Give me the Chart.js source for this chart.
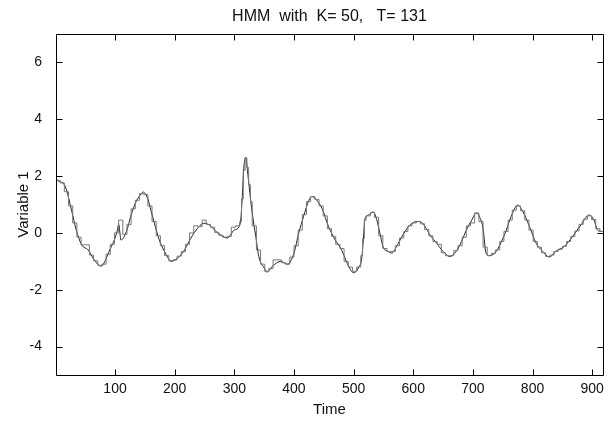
<!DOCTYPE html>
<html>
<head>
<meta charset="utf-8">
<script src="https://cdn.jsdelivr.net/npm/chart.js@4.4.1/dist/chart.umd.min.js"></script>
<style>
  html, body { margin: 0; padding: 0; background: #fff; }
  #wrap { width: 610px; height: 423px; }
</style>
</head>
<body>
<div id="wrap"><canvas id="hmm-chart"></canvas></div>
<script>
// observed signal
const timeSteps = [1,7,13,18,27,35,44,55,63,71,
  77,83,91,99,104,106,110,119,127,135,
  144,147,155,160,166,174,186,194,205,215,
  224,236,249,258,272,288,300,310,313,316,
  319,322,325,330,336,341,350,355,364,378,
  389,400,408,416,425,430,437,447,458,469,
  481,489,500,508,514,517,519,525,533,539,
  544,550,558,564,572,581,592,603,611,620,
  628,639,650,661,672,681,689,698,706,711,
  717,722,728,739,748,756,764,775,784,795,
  806,817,828,839,853,867,881,895,903,909,
  917];
const variable1 = [1.9,1.8,1.75,1.55,0.8,0.1,-0.42,-0.6,-0.88,-1.1,
  -1.17,-1.0,-0.6,-0.24,0.1,0.3,-0.25,0.05,0.63,1.09,
  1.38,1.44,1.2,0.8,0.34,-0.24,-0.77,-1.0,-0.88,-0.65,
  -0.3,0.1,0.34,0.28,0.0,-0.18,0.1,0.34,1.15,2.31,
  2.66,2.2,1.6,0.7,-0.13,-0.83,-1.23,-1.38,-1.17,-1.0,
  -1.1,-0.71,0.0,0.57,1.15,1.28,1.18,0.86,0.22,-0.24,
  -0.65,-1.06,-1.4,-1.23,-0.83,0.0,0.5,0.63,0.74,0.45,
  0.0,-0.53,-0.65,-0.71,-0.48,-0.13,0.22,0.39,0.4,0.22,
  -0.07,-0.36,-0.65,-0.83,-0.65,-0.3,0.1,0.45,0.71,0.57,
  0.16,-0.71,-0.8,-0.65,-0.3,0.1,0.57,0.98,0.74,0.22,
  -0.36,-0.65,-0.85,-0.65,-0.48,-0.13,0.28,0.63,0.45,0.1,
  0.05];

// HMM state means (piecewise constant), start time of each step
const stateTimes = [1,8,15,22,29,36,43,50,57,64,
  71,78,85,92,99,106,113,120,127,134,
  141,148,155,162,169,176,183,190,197,204,
  211,218,225,232,239,246,253,260,267,274,
  281,288,295,302,309,312,315,318,321,324,
  327,330,337,344,351,358,365,372,379,386,
  393,400,407,414,421,428,435,442,449,456,
  463,470,477,484,491,498,505,512,515,518,
  521,528,535,542,549,556,563,570,577,584,
  591,598,605,612,619,626,633,640,647,654,
  661,668,675,682,689,696,703,710,717,724,
  731,738,745,752,759,766,773,780,787,794,
  801,808,815,822,829,836,843,850,857,864,
  871,878,885,892,899,906,913,918];
const stateMeans = [1.85,1.76,1.45,0.95,0.35,-0.15,-0.42,-0.42,-0.78,-0.98,
  -1.14,-1.1,-0.75,-0.4,0.0,0.45,-0.05,0.3,0.85,1.15,
  1.38,1.35,0.95,0.4,-0.1,-0.45,-0.8,-0.98,-0.95,-0.82,
  -0.66,-0.4,0.0,0.25,0.22,0.45,0.3,0.2,0.02,-0.08,
  -0.15,-0.12,0.2,0.25,0.4,1.2,2.2,2.65,2.3,1.7,
  1.1,0.25,-0.6,-1.1,-1.35,-1.25,-0.95,-0.95,-1.05,-1.1,
  -0.85,-0.45,0.1,0.65,1.1,1.28,1.18,0.95,0.6,0.15,
  -0.12,-0.4,-0.55,-1.0,-1.2,-1.35,-1.2,-0.8,-0.2,0.45,
  0.6,0.72,0.55,-0.1,-0.55,-0.66,-0.65,-0.45,-0.18,0.05,
  0.25,0.35,0.4,0.32,0.12,-0.1,-0.3,-0.4,-0.7,-0.8,
  -0.8,-0.62,-0.45,-0.15,0.25,0.35,0.7,0.4,-0.5,-0.8,
  -0.72,-0.6,-0.3,0.05,0.45,0.8,0.95,0.78,0.45,0.1,
  -0.3,-0.5,-0.7,-0.83,-0.78,-0.65,-0.57,-0.47,-0.3,-0.13,
  0.07,0.3,0.48,0.6,0.47,0.15,0.05,0.05];

const xTicks = [100,200,300,400,500,600,700,800,900];
const yTicks = [-4,-2,0,2,4,6];

// matlab style box with inward ticks
const matlabBox = {
  id: 'matlabBox',
  afterDatasetsDraw(chart) {
    const {ctx, chartArea: a, scales: {x, y}} = chart;
    const L = Math.round(a.left) + 0.5, R = Math.round(a.right) + 0.5;
    const T = Math.round(a.top) + 0.5, B = Math.round(a.bottom) + 0.5;
    ctx.save();
    ctx.strokeStyle = '#000';
    ctx.lineWidth = 1;
    ctx.beginPath();
    ctx.rect(L, T, R - L, B - T);
    xTicks.forEach(v => {
      const px = Math.round(x.getPixelForValue(v)) + 0.5;
      ctx.moveTo(px, B); ctx.lineTo(px, B - 6);
      ctx.moveTo(px, T); ctx.lineTo(px, T + 6);
    });
    yTicks.forEach(v => {
      const py = Math.round(y.getPixelForValue(v)) + 0.5;
      ctx.moveTo(L, py); ctx.lineTo(L + 6, py);
      ctx.moveTo(R, py); ctx.lineTo(R - 6, py);
    });
    ctx.stroke();
    ctx.restore();
  }
};

const tickFont = { family: '"Liberation Sans", Arial, sans-serif', size: 14 };
const labelFont = { family: '"Liberation Sans", Arial, sans-serif', size: 15 };

new Chart(document.getElementById('hmm-chart'), {
  type: 'line',
  data: {
    datasets: [{
      label: 'HMM',
      data: stateTimes.map((t, i) => ({ x: t, y: stateMeans[i] })),
      stepped: true,
      borderColor: '#777',
      borderWidth: 1,
      pointRadius: 0,
      fill: false
    }, {
      label: 'Variable 1',
      data: timeSteps.map((t, i) => ({ x: t, y: variable1[i] })),
      borderColor: '#222',
      borderWidth: 1,
      cubicInterpolationMode: 'monotone',
      pointRadius: 0,
      fill: false
    }]
  },
  options: {
    responsive: true,
    maintainAspectRatio: false,
    animation: false,
    layout: { padding: { left: 0, right: 6, top: 0, bottom: 0 } },
    plugins: {
      legend: { display: false },
      tooltip: { enabled: false },
      title: { display: false }
    },
    scales: {
      // top axis only carries the title so it is centred over the plot
      xTop: {
        axis: 'x',
        type: 'linear',
        position: 'top',
        min: 1,
        max: 918,
        afterBuildTicks: s => { s.ticks = []; },
        afterFit: s => { s.height = 34; },
        grid: { display: false, drawTicks: false },
        border: { display: false },
        ticks: { display: false },
        title: {
          display: true,
          text: 'HMM  with  K= 50,   T= 131',
          color: '#111',
          font: { ...labelFont, size: 16 },
          padding: { top: 7, bottom: 0 }
        }
      },
      x: {
        type: 'linear',
        min: 1,
        max: 918,
        afterBuildTicks: s => { s.ticks = xTicks.map(v => ({ value: v })); },
        afterFit: s => { s.height = 48; },
        grid: { display: false, drawTicks: false },
        border: { display: false },
        ticks: { color: '#111', font: tickFont, padding: 6, maxRotation: 0 },
        title: { display: true, text: 'Time', color: '#111', font: labelFont, padding: { top: 0, bottom: 4 } }
      },
      y: {
        min: -5,
        max: 7,
        afterBuildTicks: s => { s.ticks = yTicks.map(v => ({ value: v })); },
        afterFit: s => { s.width = 56; },
        grid: { display: false, drawTicks: false },
        border: { display: false },
        ticks: { color: '#111', font: tickFont, padding: 14 },
        title: { display: true, text: 'Variable 1', color: '#111', font: labelFont, padding: { top: 15, bottom: 0 } }
      }
    }
  },
  plugins: [matlabBox]
});
</script>
</body>
</html>
